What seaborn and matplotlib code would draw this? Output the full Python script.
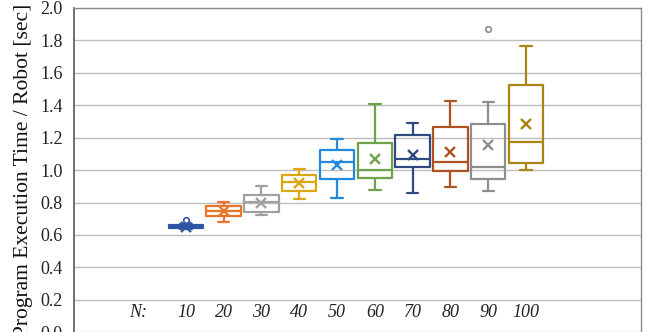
import matplotlib
matplotlib.use("Agg")
import matplotlib.pyplot as plt
import numpy as np
import pandas as pd
import seaborn as sns

# Number of robots per run
robots = ["10", "20", "30", "40", "50", "60", "70", "80", "90", "100"]

# Five-number summaries of the execution time per robot [sec]
whisker_low = [0.637, 0.678, 0.721, 0.822, 0.828, 0.875, 0.860, 0.894, 0.873, 0.998]
q1 = [0.643, 0.717, 0.743, 0.873, 0.946, 0.953, 1.017, 0.994, 0.945, 1.041]
median = [0.652, 0.748, 0.805, 0.924, 1.047, 1.000, 1.068, 1.049, 1.020, 1.174]
q3 = [0.660, 0.778, 0.846, 0.969, 1.125, 1.164, 1.217, 1.265, 1.283, 1.525]
whisker_high = [0.667, 0.805, 0.902, 1.006, 1.189, 1.404, 1.291, 1.426, 1.420, 1.765]
means = [0.652, 0.750, 0.799, 0.922, 1.031, 1.066, 1.090, 1.113, 1.154, 1.283]

# Points outside the whiskers
outlier_group = ["10", "90"]
outlier_value = [0.695, 1.870]

colors = ["#2F55A4", "#E8752A", "#A0A0A0", "#DCA70E", "#2289DB",
          "#6FA24A", "#2E4A80", "#AE5222", "#8E8E8E", "#A8850F"]
palette = dict(zip(robots, colors))

# Long table holding the summary values of each group
rows = []
for n, lo, a, m, b, hi in zip(robots, whisker_low, q1, median, q3, whisker_high):
    for v in (lo, a, m, b, hi):
        rows.append({"robots": n, "time": v})
summary = pd.DataFrame(rows)
mean_df = pd.DataFrame({"robots": robots, "time": means})
out_df = pd.DataFrame({"robots": outlier_group, "time": outlier_value})

sns.set_theme(style="white")
plt.rcParams["font.family"] = ["Liberation Serif", "DejaVu Serif"]

fig = plt.figure(figsize=(6.55, 3.32), dpi=100)
ax = fig.add_axes([0.113, -0.0015, 0.8656, 0.9789])

sns.boxplot(data=summary, x="robots", y="time", hue="robots", order=robots,
            hue_order=robots, palette=palette, fill=False, whis=(0, 100),
            width=0.91, linewidth=1.6, legend=False, ax=ax, capwidths=0.3)

sns.pointplot(data=mean_df, x="robots", y="time", hue="robots", order=robots,
              hue_order=robots, palette=palette, markers="x", linestyle="none",
              errorbar=None, legend=False, ax=ax,
              markersize=7.5, markeredgewidth=1.7)

sns.pointplot(data=out_df, x="robots", y="time", hue="robots", order=robots,
              hue_order=robots, palette=palette, markers="o", linestyle="none",
              errorbar=None, legend=False, ax=ax,
              markersize=4, markeredgewidth=1.2, markerfacecolor="white")

ax.set_xlim(-2.96, 12.04)
ax.set_ylim(0, 2.0)
ax.set_yticks(np.arange(0, 2.01, 0.2))
ax.set_yticklabels([f"{t:.1f}" for t in np.arange(0, 2.01, 0.2)])
ax.set_xticks([])
ax.set_xlabel("")
ax.yaxis.grid(True, color="#bdbdbd", linewidth=1.0)
ax.set_axisbelow(True)
ax.tick_params(axis="y", length=0, pad=8, labelsize=13, labelcolor="#222222")

ax.set_ylabel("Program Execution Time / Robot [sec]", fontsize=15.5, color="#111111")
ax.yaxis.set_label_coords(-0.072, 0.5)

for spine in ("top", "right"):
    ax.spines[spine].set_color("#8c8c8c")
    ax.spines[spine].set_linewidth(1.0)
ax.spines["left"].set_color("#595959")
ax.spines["left"].set_linewidth(1.2)
ax.spines["bottom"].set_visible(False)

# Group labels inside the plot area
label_y = 0.125
ax.text(-1.27, label_y, "N:", ha="center", va="center", style="italic",
        fontsize=13, color="#222222")
for i, n in enumerate(robots):
    ax.text(i, label_y, n, ha="center", va="center", style="italic",
            fontsize=13, color="#222222")

fig.savefig("out.png", dpi=100)
